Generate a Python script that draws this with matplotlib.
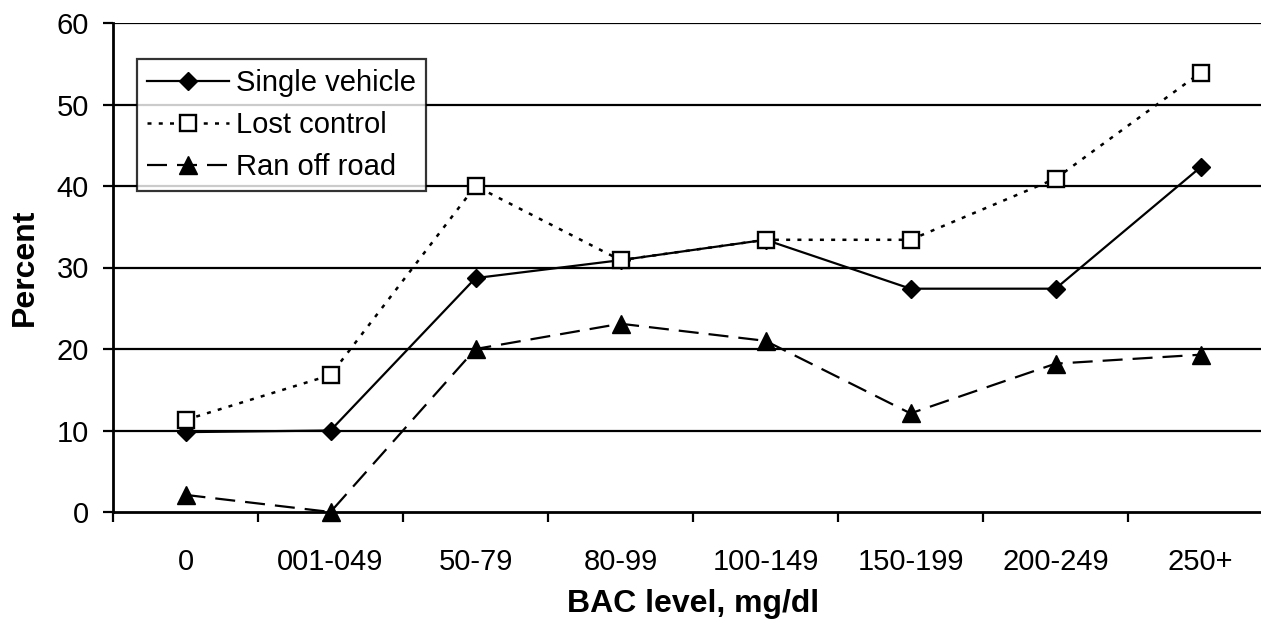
import matplotlib
matplotlib.use("Agg")
import matplotlib.pyplot as plt
from matplotlib.ticker import FixedLocator, NullFormatter

plt.rcParams['font.family'] = ['Liberation Sans', 'DejaVu Sans']

categories = ["0", "001-049", "50-79", "80-99", "100-149", "150-199", "200-249", "250+"]
single_vehicle = [9.8, 10.0, 28.7, 30.9, 33.4, 27.4, 27.4, 42.3]
lost_control = [11.3, 16.8, 40.0, 30.9, 33.4, 33.4, 40.9, 53.9]
ran_off_road = [2.1, 0.0, 20.0, 23.1, 21.0, 12.1, 18.2, 19.3]
y_ticks = [0, 10, 20, 30, 40, 50, 60]

W, H = 1261, 624
fig = plt.figure(figsize=(W / 100, H / 100), dpi=100)
ax = fig.add_axes([113 / W, (H - 512) / H, 1160 / W, 489 / H])

x = list(range(len(categories)))
fs = 21
lfs = 23

for yv in y_ticks[1:]:
    ax.axhline(yv, color='black', lw=1.6, zorder=1)

ax.plot(x, single_vehicle, color='black', lw=1.6, marker='D', ms=9.5,
        mfc='black', mec='black', label='Single vehicle', zorder=3, clip_on=False)
ax.plot(x, lost_control, color='black', lw=1.8, ls=(0, (1.6, 2.9)), marker='s', ms=11,
        mfc='white', mec='black', mew=1.7, label='Lost control', zorder=3, clip_on=False)
ax.plot(x, ran_off_road, color='black', lw=1.6, ls=(0, (9.0, 4.5)), marker='^', ms=13,
        mfc='black', mec='black', label='Ran off road', zorder=4, clip_on=False)

ax.set_xlim(-0.5, len(categories) - 0.5)
ax.set_ylim(0, 60)
ax.set_yticks(y_ticks)
ax.set_yticklabels([str(v) for v in y_ticks], fontsize=fs)
ax.set_xticks(x)
ax.set_xticklabels(categories, fontsize=fs)
ax.tick_params(axis='x', which='major', length=0, pad=26)
ax.xaxis.set_minor_locator(FixedLocator([i - 0.5 for i in range(len(categories) + 1)]))
ax.xaxis.set_minor_formatter(NullFormatter())
ax.tick_params(axis='x', which='minor', length=7.2, width=1.6, direction='out', color='black')
ax.tick_params(axis='y', length=7.2, width=1.6, direction='out', pad=10)

for s in ['top', 'right']:
    ax.spines[s].set_visible(False)
ax.spines['left'].set_linewidth(2.0)
ax.spines['bottom'].set_linewidth(2.0)

ax.set_xlabel('BAC level, mg/dl', fontsize=lfs, fontweight='bold', labelpad=9)
ax.set_ylabel('Percent', fontsize=lfs, fontweight='bold', labelpad=12)

leg = ax.legend(loc='upper left', bbox_to_anchor=(137 / W, 1 - 59 / H),
                bbox_transform=fig.transFigure, fontsize=fs, frameon=True,
                fancybox=False, shadow=False, handlelength=2.8, handletextpad=0.24,
                labelspacing=0.48, borderpad=0.34, borderaxespad=0)
leg.get_frame().set_edgecolor('black')
leg.get_frame().set_linewidth(1.6)
leg.set_zorder(10)

fig.savefig('out.png', dpi=100)
